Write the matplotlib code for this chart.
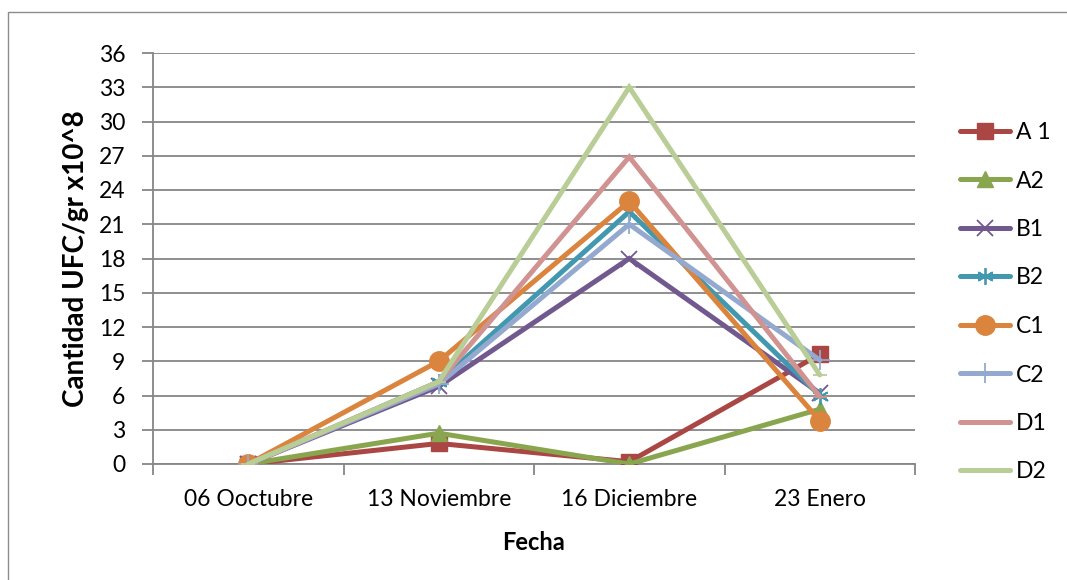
import matplotlib
matplotlib.use("Agg")
import matplotlib.pyplot as plt
from matplotlib.patches import Rectangle

plt.rcParams['font.family'] = ['Lato', 'DejaVu Sans']

fechas = ["06 Ooctubre", "13 Noviembre", "16 Diciembre", "23 Enero"]
series_names = ["A 1", "A2", "B1", "B2", "C1", "C2", "D1", "D2"]
A1 = [0, 1.8, 0.2, 9.6]
A2 = [0, 2.7, 0.0, 4.8]
B1 = [0, 6.8, 18.0, 6.2]
B2 = [0, 7.2, 22.1, 6.0]
C1 = [0, 9.0, 23.0, 3.8]
C2 = [0, 7.0, 21.0, 9.1]
D1 = [0, 7.2, 26.9, 5.9]
D2 = [0, 7.2, 33.0, 7.8]
yticks = list(range(0, 37, 3))

values = [A1, A2, B1, B2, C1, C2, D1, D2]
colors = ["#AA4643", "#89A54E", "#71588F", "#4198AF", "#DB843D", "#93A9CF", "#D19392", "#B9CD96"]
markers = ["s", "^", "x", (6, 2, 0), "o", "+", "_", "_"]
msizes = [12, 12, 12, 12, 14, 14, 10, 10]

FS = 16.5

fig = plt.figure(figsize=(10.67, 5.8), dpi=100)
fig.patches.append(Rectangle((8/1067, -0.05), 1.2, 1 - 12/580 + 0.05, transform=fig.transFigure,
                             fill=False, edgecolor="#8C8C8C", linewidth=1.0))
ax = fig.add_axes([153/1067, 116/580, 762/1067, 411/580])

x = list(range(len(fechas)))
handles = []
for name, vals, c, m, ms in zip(series_names, values, colors, markers, msizes):
    filled = m in ("s", "^", "o")
    h, = ax.plot(x, vals, color=c, linewidth=3.6, marker=m, markersize=ms,
                 markerfacecolor=c, markeredgecolor=c,
                 markeredgewidth=1.3 if not filled else 1.0,
                 solid_capstyle="round", solid_joinstyle="miter", label=name, zorder=3)
    handles.append(h)

ax.set_xlim(-0.5, len(fechas) - 0.5)
ax.set_ylim(0, 36)
ax.set_yticks(yticks)
ax.set_yticklabels([str(t) for t in yticks], fontsize=FS)
ax.yaxis.grid(True, color="#868686", linewidth=1.3, zorder=0)
ax.set_axisbelow(True)

ax.set_xticks([i - 0.5 for i in range(len(fechas) + 1)])
ax.set_xticklabels([])
ax.set_xticks(x, minor=True)
ax.set_xticklabels(fechas, minor=True, fontsize=FS)
ax.tick_params(axis="x", which="minor", length=0, pad=18)
ax.tick_params(axis="x", which="major", length=8, width=1.3, color="#868686", direction="out")
ax.tick_params(axis="y", length=8, width=1.3, color="#868686", direction="out", pad=12)

for s in ["top", "right"]:
    ax.spines[s].set_visible(False)
for s in ["left", "bottom"]:
    ax.spines[s].set_color("#868686")
    ax.spines[s].set_linewidth(1.3)

ax.set_xlabel("Fecha", fontsize=17, fontweight="bold", labelpad=15)
ax.set_ylabel("Cantidad UFC/gr x10^8", fontsize=20, fontweight="bold", labelpad=7)

fig.legend(handles=handles, loc="upper left", bbox_to_anchor=(960/1067, 1 - 122/580),
           frameon=False, fontsize=FS, handlelength=2.2, labelspacing=1.2,
           handletextpad=0.25, borderaxespad=0, borderpad=0)

fig.savefig("out.png", dpi=100)
